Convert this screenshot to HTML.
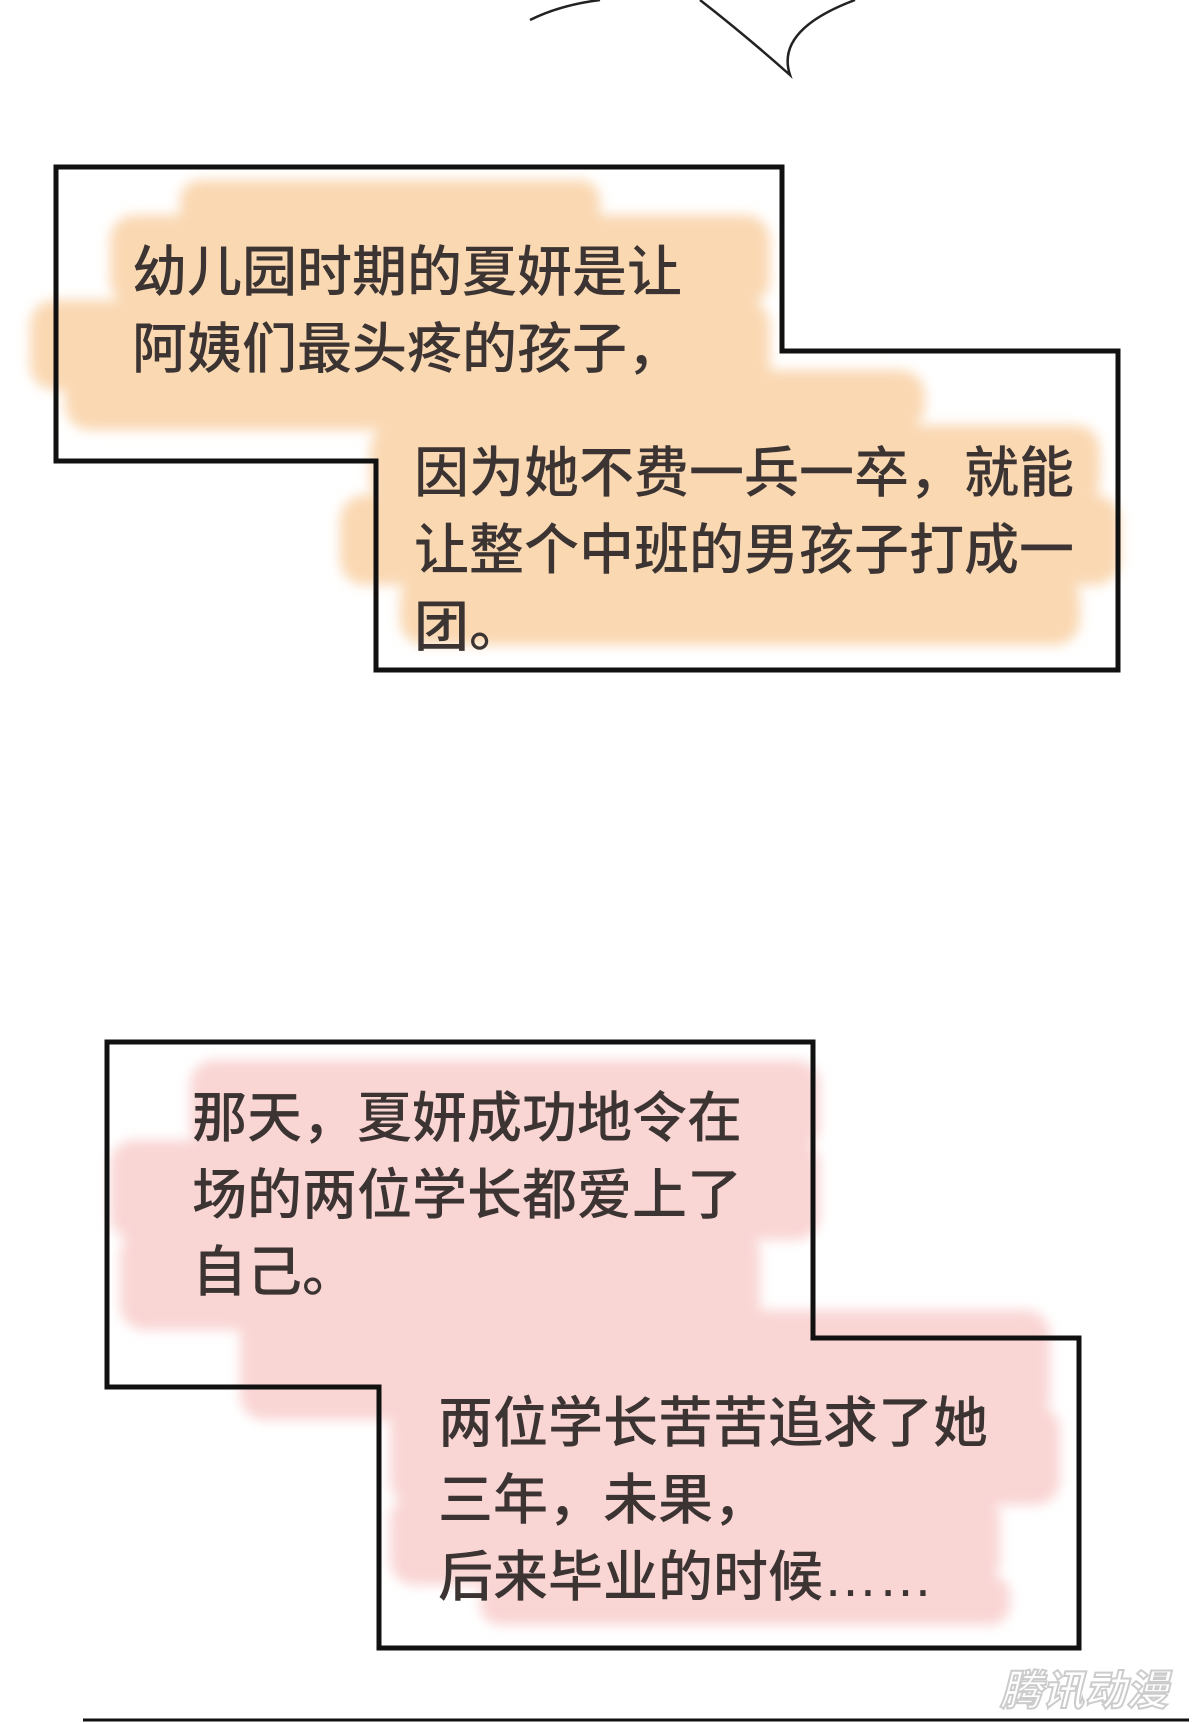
<!DOCTYPE html>
<html><head><meta charset="utf-8"><style>
body{margin:0;width:1200px;height:1723px;background:#fff;position:relative;overflow:hidden;font-family:"Liberation Sans","Noto Sans CJK SC",sans-serif}
svg{position:absolute;left:0;top:0}
.t{position:absolute;font-size:55px;color:#3b3432;line-height:77px;white-space:nowrap;letter-spacing:0px;font-weight:500}
</style></head><body>
<svg width="1200" height="1723">
<defs><filter id="b" x="-10%" y="-30%" width="120%" height="160%"><feGaussianBlur stdDeviation="6"/></filter></defs>
<path d="M530 20 Q560 5 600 0 M700 0 Q745 35 790 75 Q775 30 855 0" fill="none" stroke="#222" stroke-width="2.5"/>
<g fill="#fad8b2" filter="url(#b)">
<rect x="180" y="180" width="420" height="60" rx="20"/>
<rect x="110" y="215" width="660" height="90" rx="25"/>
<rect x="30" y="300" width="740" height="90" rx="25"/>
<rect x="65" y="370" width="860" height="60" rx="25"/>
<rect x="370" y="425" width="730" height="80" rx="25"/>
<rect x="340" y="495" width="780" height="90" rx="25"/>
<rect x="400" y="575" width="680" height="70" rx="25"/>
</g>
<g fill="#f9d5d4" filter="url(#b)">
<rect x="190" y="1060" width="630" height="90" rx="25"/>
<rect x="110" y="1140" width="710" height="100" rx="25"/>
<rect x="120" y="1230" width="640" height="100" rx="25"/>
<rect x="240" y="1310" width="810" height="110" rx="25"/>
<rect x="390" y="1405" width="670" height="100" rx="25"/>
<rect x="390" y="1495" width="610" height="90" rx="25"/>
<rect x="480" y="1575" width="530" height="50" rx="20"/>
</g>
<path d="M56 167 H782 V351 H1118 V670 H376 V461 H56 Z" fill="none" stroke="#111" stroke-width="5"/>
<path d="M107 1042 H813 V1338 H1079 V1648 H379 V1387 H107 Z" fill="none" stroke="#111" stroke-width="5"/>
<line x1="83" y1="1720" x2="1189" y2="1720" stroke="#111" stroke-width="3"/>
<text x="1000" y="1705" font-family="Liberation Sans,Noto Sans CJK SC,sans-serif" font-size="42" font-weight="bold" fill="#fff" stroke="#ccc" stroke-width="2" font-style="italic">腾讯动漫</text>
</svg>
<div class="t" style="left:132px;top:234px">幼儿园时期的夏妍是让<br>阿姨们最头疼的孩子，</div>
<div class="t" style="left:414px;top:435px">因为她不费一兵一卒，就能<br>让整个中班的男孩子打成一<br>团。</div>
<div class="t" style="left:192px;top:1080px">那天，夏妍成功地令在<br>场的两位学长都爱上了<br>自己。</div>
<div class="t" style="left:438px;top:1385px">两位学长苦苦追求了她<br>三年，未果，<br>后来毕业的时候……</div>
</body></html>
